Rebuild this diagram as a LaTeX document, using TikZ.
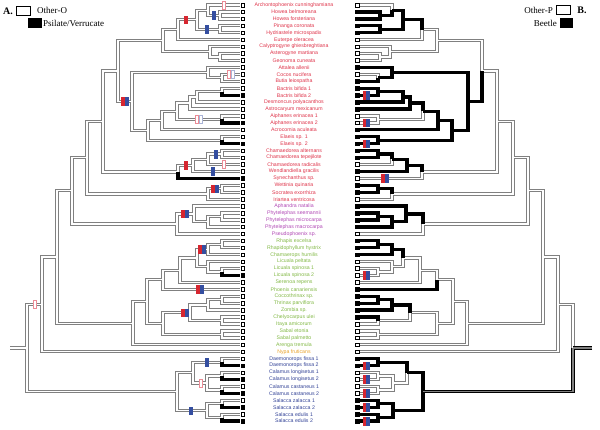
\documentclass[tikz,border=0pt]{standalone}
\usepackage{fontspec}
\setmainfont{Liberation Serif}
\setsansfont{Liberation Sans}
\usetikzlibrary{calc}
\definecolor{colare}{RGB}{222,52,74}
\definecolor{colcer}{RGB}{176,72,180}
\definecolor{colcor}{RGB}{130,184,70}
\definecolor{colnyp}{RGB}{232,160,40}
\definecolor{colcal}{RGB}{50,66,150}
\definecolor{mkred}{RGB}{214,38,48}
\definecolor{mkblue}{RGB}{52,78,160}
\definecolor{mkpink}{RGB}{236,140,150}
\definecolor{mklblue}{RGB}{170,180,215}
% clade name / x of left tree / first child / second child
\newcommand\cladelist{how/220/2/3, ah/208/1/how, ph/220/4/5, are1/197/ah/ph,
  are2/178/are1/6, geo2/220/8/9, geo/210/7/geo2, are/163/are2/geo,
  cb/222/11/12, att/208/10/cb, bac/222/13/14, bd/197/bac/15, bda/190/bd/16,
  aip/222/17/18, baa/177/bda/aip, bac2/162/baa/19, ela/222/20/21,
  bae/148/bac2/ela, coc/132/att/bae, arc/118/are/coc,
  cha2/222/22/23, cha3/208/cha2/24, cha4/193/cha3/25, cha/178/cha4/26,
  n103/103/arc/cha, iri2/222/27/28, iri/208/iri2/29, n87/87/n103/iri,
  phy2/222/31/32, phy3/208/phy2/33, phy4/194/30/phy3, cer/177/phy4/34,
  n72/72/n87/cer, rh2/222/35/36, rh/208/rh2/37, lic2/222/39/40,
  lic/208/38/lic2, rl/197/rh/lic, rls/180/rl/41, rlp/163/rls/42,
  thr2/222/43/44, thr3/208/thr2/45, che/222/46/47, thr/190/thr3/che,
  sab/222/48/49, ts/163/thr/sab, cor2/147/rlp/ts, cor/133/cor2/50,
  n57/57/n72/cor, n42/42/n57/51, dae/222/52/53, cl/222/54/55,
  cc/222/56/57, cal/207/cl/cc, dc/193/dae/cal, sz/222/58/59,
  se/222/60/61, sal/207/sz/se, clm/177/dc/sal, root/27/n42/clm}
\begin{document}
\begin{tikzpicture}[x=1pt,y=-1pt,
  edgeo/.style={draw=black!50,line width=3.3pt},
  edgei/.style={draw=white,line width=1.3pt},
  edgeb/.style={draw=black,line width=3.3pt},
  edgem/.style={draw=black!50,line width=1.3pt},
  tipo/.style={draw=black,line width=.5pt,fill=white},
  tipb/.style={draw=black,line width=.5pt,fill=black},
  taxon/.style={font=\sffamily\fontsize{5.2}{6}\selectfont,inner sep=0pt},
  chg/.style={rectangle,inner sep=0pt,minimum width=2.8pt,minimum height=7.6pt,line width=.5pt},
  chgred/.style={chg,fill=mkred,draw=mkred},
  chgblue/.style={chg,fill=mkblue,draw=mkblue},
  chgpink/.style={chg,fill=white,draw=mkpink},
  chglblue/.style={chg,fill=white,draw=mklblue},
  legbox/.style={draw=black,line width=.6pt,minimum width=14pt,minimum height=9pt,inner sep=0pt},
  legtext/.style={font=\fontsize{9}{10}\selectfont,inner sep=0pt},
  legkey/.style={font=\bfseries\fontsize{10}{11}\selectfont,inner sep=0pt}]
\useasboundingbox (0,0) rectangle (600,429);
% tips
\foreach \i in {1,...,61}{
  \pgfmathsetmacro\ty{5+(\i-1)*6.935}
  \coordinate (L\i) at (240,\ty);
  \coordinate (R\i) at (360,\ty);
}
% internal nodes, right tree mirrored
\foreach \n/\nx/\a/\b in \cladelist{
  \path ($(L\a)!.5!(L\b)$) coordinate (m);
  \pgfmathsetmacro\rx{600-\nx}
  \coordinate (L\n) at (\nx,0 |- m);
  \coordinate (R\n) at (\rx,0 |- m);
}
\coordinate (Lstub) at (10,0 |- Lroot);
\coordinate (Rstub) at (592,0 |- Lroot);
% branches: outline, then inside
\foreach \n/\nx/\a/\b in \cladelist{
  \draw[edgeo] (L\n) |- (L\a); \draw[edgeo] (L\n) |- (L\b);
  \draw[edgeo] (R\n) |- (R\a); \draw[edgeo] (R\n) |- (R\b);
}
\draw[edgeo] (Lstub) -- (Lroot);
\draw[edgeo] (Rstub) -- (Rroot);
\foreach \n/\nx/\a/\b in \cladelist{
  \draw[edgei] (L\n) |- (L\a); \draw[edgei] (L\n) |- (L\b);
  \draw[edgei] (R\n) |- (R\a); \draw[edgei] (R\n) |- (R\b);
}
\draw[edgei] (Lstub) -- (Lroot);
% psilate/verrucate branches
\foreach \p/\c in {bac/14, aip/18, ela/21, cha/26, lic2/40, dae/53, cl/55, cc/57, sz/59, se/61}
  \draw[edgeb] (L\p) |- (L\c);
% beetle branches
\foreach \p/\c in {ah/how, how/2, how/3, are1/ah, are1/ph, ph/4, ph/5, are2/are1,
  att/10, att/cb, cb/12, arc/coc, coc/att, coc/bae, bae/bac2, bae/ela, ela/20, ela/21,
  bac2/baa, bac2/19, baa/bda, bda/bd, bda/16, bd/bac, bd/15, bac/13, bac/14,
  cha/cha4, cha4/cha3, cha4/25, cha3/cha2, cha2/22, cha2/23,
  iri/iri2, iri2/27, iri2/28, cer/phy4, phy4/30, phy4/phy3, phy3/phy2, phy3/33,
  phy2/31, phy2/32, rl/rh, rh/rh2, rh/37, rh2/35, rh2/36, rlp/42,
  thr/thr3, thr3/thr2, thr3/45, thr2/43, thr2/44, che/46,
  clm/dc, dc/dae, dae/52, dae/53, clm/sal, sal/sz, sal/se, sz/58, sz/59, se/60, se/61}
  \draw[edgeb] (R\p) |- (R\c);
\draw[edgeb] (Rroot) |- (Rclm);
\draw[edgeb] (Rstub) -- (Rroot);
\draw[edgem] (Rroot) |- (Rclm);
\draw[edgem] (Rstub) -- (Rroot);
% tip boxes
\foreach \i in {1,...,61}{
  \draw[tipo] ($(L\i)+(1,-1.8)$) rectangle ++(3.6,3.6);
  \draw[tipo] ($(R\i)+(-1,-1.8)$) rectangle ++(-3.6,3.6);
}
\foreach \i in {14,18,21,26,40,53,55,57,59,61}
  \draw[tipb] ($(L\i)+(1,-1.8)$) rectangle ++(3.6,3.6);
\foreach \i in {2,3,4,5,10,12,13,14,15,16,19,20,21,22,23,25,27,28,30,31,32,33,35,36,37,42,43,44,45,46,52,53,58,59,60,61}
  \draw[tipb] ($(R\i)+(-1,-1.8)$) rectangle ++(-3.6,3.6);
% state changes, left tree
\node[chgpink] (c1) at (35,0 |- Ln42) {};
\node[chgred] (c2) at (123,0 |- Lcoc) {};
\node[chgblue] (c3) at (127,0 |- Lcoc) {};
\node[chgred] (c4) at (186,0 |- Lare1) {};
\node[chgblue] (c5) at (214,0 |- Lhow) {};
\node[chgblue] (c6) at (207,0 |- Lph) {};
\node[chgpink] (c7) at (224,0 |- L1) {};
\node[chgpink] (c8) at (229,0 |- L11) {};
\node[chglblue] (c9) at (233,0 |- L11) {};
\node[chgpink] (c10) at (197,0 |- Laip) {};
\node[chglblue] (c11) at (201,0 |- Laip) {};
\node[chgred] (c12) at (186,0 |- Lcha4) {};
\node[chgblue] (c13) at (216,0 |- Lcha2) {};
\node[chgpink] (c14) at (224,0 |- L24) {};
\node[chgblue] (c15) at (213,0 |- L25) {};
\node[chgred] (c16) at (213,0 |- Liri2) {};
\node[chgblue] (c17) at (217,0 |- Liri2) {};
\node[chgred] (c18) at (183,0 |- Lphy4) {};
\node[chgblue] (c19) at (187,0 |- Lphy4) {};
\node[chgred] (c20) at (200,0 |- Lrh) {};
\node[chgblue] (c21) at (204,0 |- Lrh) {};
\node[chgred] (c22) at (198,0 |- L42) {};
\node[chgblue] (c23) at (202,0 |- L42) {};
\node[chgred] (c24) at (183,0 |- Lthr) {};
\node[chgblue] (c25) at (187,0 |- Lthr) {};
\node[chgblue] (c26) at (207,0 |- Ldae) {};
\node[chgpink] (c27) at (201,0 |- Lcal) {};
\node[chgblue] (c28) at (191,0 |- Lsal) {};
% state changes, right tree
\foreach \i in {14,18,21,40,53,55,57,59,61}{
  \node[chgred] (dr\i) at (364.5,0 |- R\i) {};
  \node[chgblue] (db\i) at (368,0 |- R\i) {};
}
\node[chgred] (dr26) at (383,0 |- R26) {};
\node[chgblue] (db26) at (386.5,0 |- R26) {};
% taxa
\foreach \i/\t/\c in {1/Archontophoenix cunninghamiana/colare, 2/Howea belmoreana/colare,
  3/Howea forsteriana/colare, 4/Pinanga coronata/colare, 5/Hydriastele microspadix/colare,
  6/Euterpe oleracea/colare, 7/Calyptrogyne ghiesbreghtiana/colare, 8/Asterogyne martiana/colare,
  9/Geonoma cuneata/colare, 10/Attalea allenii/colare, 11/Cocos nucifera/colare,
  12/Butia leiospatha/colare, 13/Bactris bifida 1/colare, 14/Bactris bifida 2/colare,
  15/Desmoncus polyacanthos/colare, 16/Astrocaryum mexicanum/colare, 17/Aiphanes erinacea 1/colare,
  18/Aiphanes erinacea 2/colare, 19/Acrocomia aculeata/colare, 20/Elaeis sp. 1/colare,
  21/Elaeis sp. 2/colare, 22/Chamaedorea alternans/colare, 23/Chamaedorea tepejilote/colare,
  24/Chamaedorea radicalis/colare, 25/Wendlandiella gracilis/colare, 26/Synechanthus sp./colare,
  27/Wettinia quinaria/colare, 28/Socratea exorrhiza/colare, 29/Iriartea ventricosa/colare,
  30/Aphandra natalia/colcer, 31/Phytelephas seemannii/colcer, 32/Phytelephas microcarpa/colcer,
  33/Phytelephas macrocarpa/colcer, 34/Pseudophoenix sp./colcer, 35/Rhapis excelsa/colcor,
  36/Rhapidophyllum hystrix/colcor, 37/Chamaerops humilis/colcor, 38/Licuala peltata/colcor,
  39/Licuala spinosa 1/colcor, 40/Licuala spinosa 2/colcor, 41/Serenoa repens/colcor,
  42/Phoenix canariensis/colcor, 43/Coccothrinax sp./colcor, 44/Thrinax parviflora/colcor,
  45/Zombia sp./colcor, 46/Chelyocarpus ulei/colcor, 47/Itaya amicorum/colcor,
  48/Sabal etonia/colcor, 49/Sabal palmetto/colcor, 50/Arenga tremula/colcor,
  51/Nypa fruticans/colnyp, 52/Daemonorops fissa 1/colcal, 53/Daemonorops fissa 2/colcal,
  54/Calamus longisetus 1/colcal, 55/Calamus longisetus 2/colcal, 56/Calamus castaneus 1/colcal,
  57/Calamus castaneus 2/colcal, 58/Salacca zalacca 1/colcal, 59/Salacca zalacca 2/colcal,
  60/Salacca edulis 1/colcal, 61/Salacca edulis 2/colcal}
  \node[taxon,text=\c] (tx\i) at (294,0 |- L\i) {\t};
% legends
\node[legkey] (keyA) at (8,11) {A.};
\node[legbox] (bxO) at (23.5,10.5) {};
\node[legtext,anchor=west] (txO) at (37,10.5) {Other-O};
\node[legbox,minimum width=13pt,fill=black] (bxV) at (34.5,23) {};
\node[legtext,anchor=west] (txV) at (43,23) {Psilate/Verrucate};
\node[legtext,anchor=east] (txP) at (553,10) {Other-P};
\node[legbox] (bxP) at (563,9.5) {};
\node[legkey] (keyB) at (582,10.5) {B.};
\node[legtext,anchor=east] (txB) at (557,23) {Beetle};
\node[legbox,minimum width=12pt,fill=black] (bxB) at (566,22.5) {};
\end{tikzpicture}
\end{document}
